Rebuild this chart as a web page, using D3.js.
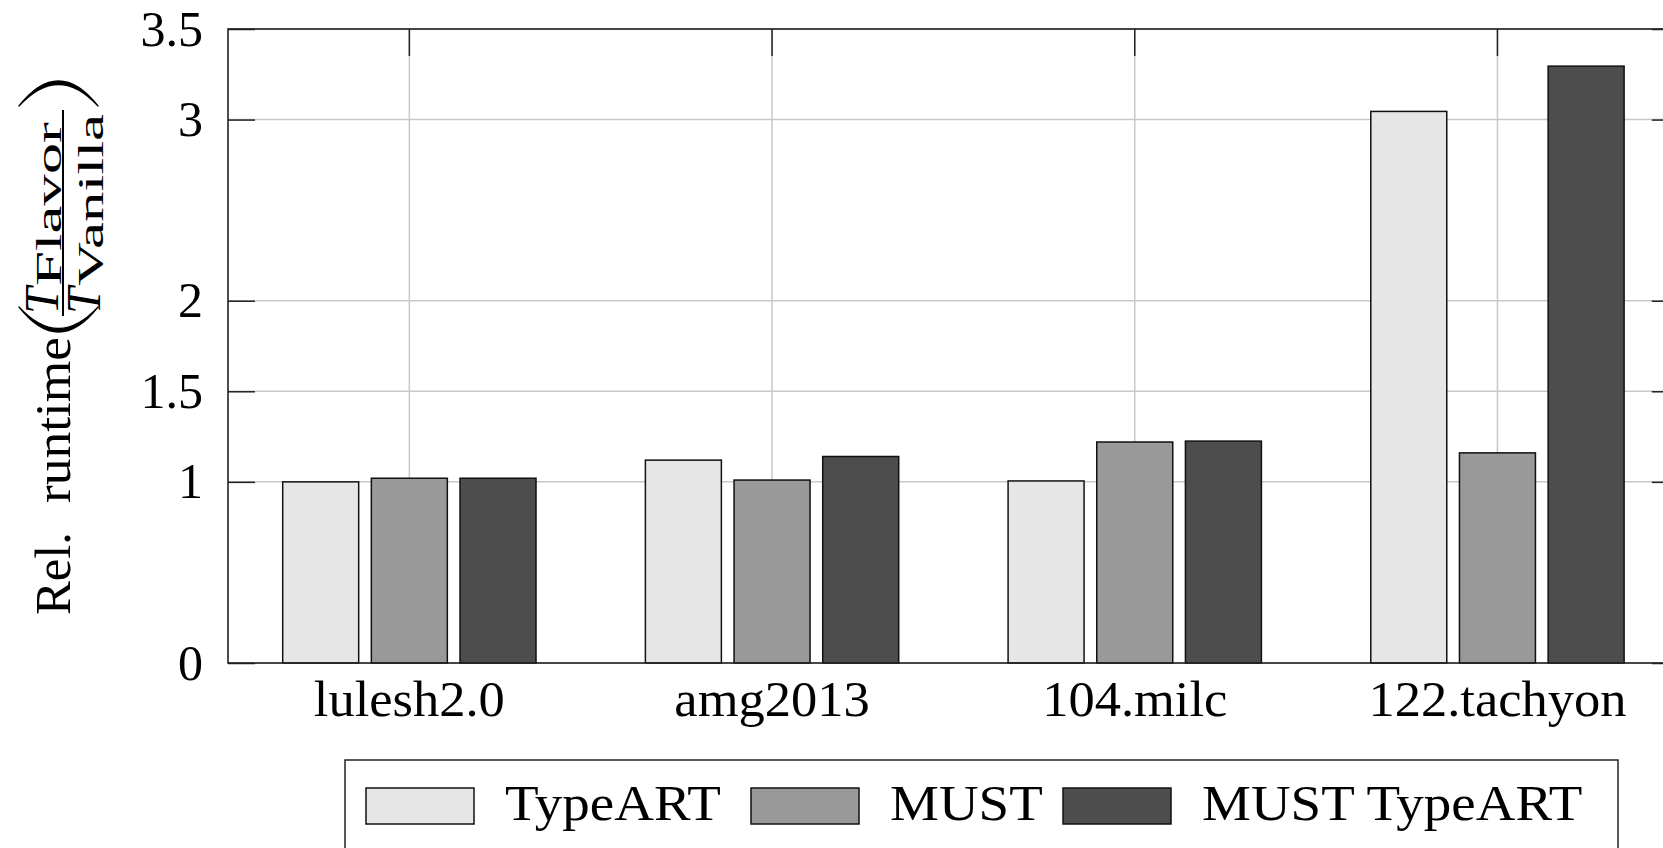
<!DOCTYPE html>
<html>
<head>
<meta charset="utf-8">
<script src="https://cdn.jsdelivr.net/npm/d3@7/dist/d3.min.js"></script>
<style>
    body { margin: 0; background: #fff; }
    svg { display: block; }
    text { font-family: "Liberation Serif", "Times New Roman", serif; fill: #000; }
</style>
</head>
<body>
<div class="chart"></div>
<script>
// benchmark runs, relative runtime T_flavor / T_vanilla
const categories = ["lulesh2.0", "amg2013", "104.milc", "122.tachyon"];
const seriesNames = ["TypeART", "MUST", "MUST TypeART"];
const typeartValues = [1.00, 1.12, 1.005, 3.045];
const mustValues = [1.02, 1.01, 1.22, 1.16];
const mustTypeartValues = [1.02, 1.14, 1.225, 3.295];
const yTickValues = [0, 1, 1.5, 2, 3, 3.5];

const seriesValues = [typeartValues, mustValues, mustTypeartValues];
const seriesColors = ["#e6e6e6", "#999999", "#4d4d4d"];

const WIDTH = 1663, HEIGHT = 848;
const margin = { top: 29, left: 228 };
const bandStep = 362.7;
const plotWidth = bandStep * categories.length; // right edge runs past the picture
const plotHeight = 634;
const tickLen = 27;
const fontSize = 50;

const svg = d3.select(".chart").append("svg")
    .attr("width", WIDTH)
    .attr("height", HEIGHT);

const x0 = d3.scaleBand()
    .domain(categories)
    .range([margin.left, margin.left + plotWidth]);

const x1 = d3.scaleBand()
    .domain(seriesNames)
    .range([-133, 133])
    .paddingInner(0.143)
    .paddingOuter(0.0715);

const y = d3.scaleLinear()
    .domain([0, 3.5])
    .range([margin.top + plotHeight, margin.top]);

const xCenter = (c) => x0(c) + x0.bandwidth() / 2;
const plotLeft = margin.left, plotRight = margin.left + plotWidth;
const plotTop = margin.top, plotBottom = margin.top + plotHeight;

// the reference uses Computer Modern, which runs a bit wider than Times
function widen(sel, factor) {
    sel.each(function () {
        const len = this.getComputedTextLength();
        d3.select(this)
            .attr("textLength", len * factor)
            .attr("lengthAdjust", "spacingAndGlyphs");
    });
}

// grid
const grid = svg.append("g").attr("stroke", "#c8c8c8").attr("stroke-width", 1.5);
grid.selectAll(".hgrid")
    .data(yTickValues)
    .enter().append("line")
    .attr("x1", plotLeft).attr("x2", plotRight)
    .attr("y1", d => y(d)).attr("y2", d => y(d));
grid.selectAll(".vgrid")
    .data(categories)
    .enter().append("line")
    .attr("x1", xCenter).attr("x2", xCenter)
    .attr("y1", plotTop).attr("y2", plotBottom);

// axes, ticks pointing inwards
function styleAxis(g) {
    g.select(".domain").remove();
    g.selectAll(".tick line").attr("stroke", "#222").attr("stroke-width", 1.5);
    g.selectAll(".tick text")
        .attr("font-size", fontSize)
        .attr("font-family", "Liberation Serif, Times New Roman, serif")
        .attr("fill", "#000");
}

svg.append("g")
    .attr("transform", `translate(${plotLeft},0)`)
    .call(d3.axisLeft(y).tickValues(yTickValues).tickSize(-tickLen).tickPadding(25).tickFormat(d3.format("")))
    .call(styleAxis);

svg.append("g")
    .attr("transform", `translate(${plotRight},0)`)
    .call(d3.axisRight(y).tickValues(yTickValues).tickSize(-tickLen).tickFormat(""))
    .call(styleAxis);

svg.append("g")
    .attr("transform", `translate(0,${plotTop})`)
    .call(d3.axisTop(x0).tickSize(-tickLen).tickFormat(""))
    .call(styleAxis);

const xAxisG = svg.append("g")
    .attr("transform", `translate(0,${plotBottom})`)
    .call(d3.axisBottom(x0).tickSize(-tickLen).tickPadding(17))
    .call(styleAxis);
xAxisG.selectAll(".tick text").call(widen, 1.05);

// bars
const groups = svg.append("g").selectAll("g")
    .data(categories)
    .enter().append("g")
    .attr("transform", d => `translate(${xCenter(d)},0)`);

groups.selectAll("rect")
    .data((c, ci) => seriesNames.map((s, si) => ({ series: s, idx: si, value: seriesValues[si][ci] })))
    .enter().append("rect")
    .attr("x", d => x1(d.series))
    .attr("width", x1.bandwidth())
    .attr("y", d => y(d.value))
    .attr("height", d => y(0) - y(d.value))
    .attr("fill", d => seriesColors[d.idx])
    .attr("stroke", "#111")
    .attr("stroke-width", 1.5);

// frame
svg.append("rect")
    .attr("x", plotLeft).attr("y", plotTop)
    .attr("width", plotWidth).attr("height", plotHeight)
    .attr("fill", "none")
    .attr("stroke", "#222")
    .attr("stroke-width", 1.6);

// y label: Rel. runtime (T_Flavor / T_Vanilla), rotated
// inside the group: x runs up the page, y runs to the right
const ylab = svg.append("g").attr("transform", "rotate(-90)");
ylab.append("text")
    .attr("x", -615).attr("y", 70)
    .attr("font-size", fontSize)
    .attr("textLength", 83)
    .attr("lengthAdjust", "spacingAndGlyphs")
    .text("Rel.");
ylab.append("text")
    .attr("x", -503).attr("y", 70)
    .attr("font-size", fontSize)
    .attr("textLength", 166)
    .attr("lengthAdjust", "spacingAndGlyphs")
    .text("runtime");

// big delimiters, crescent fill plus a thin outline so the ends stay visible
ylab.append("path")
    .attr("d", "M-307,19 Q-357,58.5 -307,98 Q-350,58.5 -307,19 Z")
    .attr("fill", "#000").attr("stroke", "#000").attr("stroke-width", 1.3)
    .attr("stroke-linejoin", "round");
ylab.append("path")
    .attr("d", "M-106,19 Q-56,58.5 -106,98 Q-63,58.5 -106,19 Z")
    .attr("fill", "#000").attr("stroke", "#000").attr("stroke-width", 1.3)
    .attr("stroke-linejoin", "round");

// fraction
ylab.append("line")
    .attr("x1", -316).attr("x2", -110)
    .attr("y1", 63).attr("y2", 63)
    .attr("stroke", "#000").attr("stroke-width", 2);

const fracParts = [
    { main: "T", sub: "Flavor", base: 58, subLen: 164 },
    { main: "T", sub: "Vanilla", base: 100, subLen: 172 }
];
fracParts.forEach(p => {
    ylab.append("text")
        .attr("x", -314).attr("y", p.base)
        .attr("font-size", 48)
        .attr("font-style", "italic")
        .text(p.main);
    ylab.append("text")
        .attr("x", -286).attr("y", p.base + 3)
        .attr("font-size", 36)
        .attr("textLength", p.subLen)
        .attr("lengthAdjust", "spacingAndGlyphs")
        .text(p.sub);
});

// legend
const legendX = [366, 751, 1063];
const legend = svg.append("g");
legend.append("rect")
    .attr("x", 345).attr("y", 760)
    .attr("width", 1273).attr("height", 110)
    .attr("fill", "#fff")
    .attr("stroke", "#222")
    .attr("stroke-width", 1.5);

const items = legend.selectAll(".item")
    .data(seriesNames)
    .enter().append("g")
    .attr("transform", (d, i) => `translate(${legendX[i]},0)`);
items.append("rect")
    .attr("x", 0).attr("y", 788)
    .attr("width", 108).attr("height", 36)
    .attr("fill", (d, i) => seriesColors[i])
    .attr("stroke", "#111")
    .attr("stroke-width", 1.5);
items.append("text")
    .attr("x", 139).attr("y", 820)
    .attr("font-size", fontSize)
    .text(d => d)
    .call(widen, 1.1);
</script>
</body>
</html>
